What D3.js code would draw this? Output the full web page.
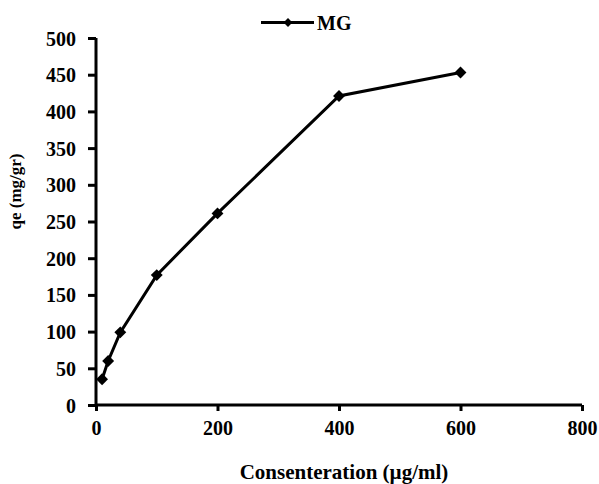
<!DOCTYPE html>
<html>
<head>
<meta charset="utf-8">
<script src="https://cdn.jsdelivr.net/npm/d3@7"></script>
<style>
  body { margin: 0; background: #fff; }
  svg text { font-family: "Liberation Serif", "Times New Roman", serif !important; font-weight: bold; fill: #000; }
</style>
</head>
<body>
<div id="chart"></div>
<script>
// data
const seriesName = "MG";
const concentration = [10, 20, 40, 100, 200, 400, 600];
const qe = [35, 60, 99, 177, 261, 421, 453];
const xTicks = [0, 200, 400, 600, 800];
const yTicks = [0, 50, 100, 150, 200, 250, 300, 350, 400, 450, 500];

const width = 599, height = 484;
const margin = { left: 96, right: 17, top: 38, bottom: 79 };

const svg = d3.select("#chart")
    .append("svg")
    .attr("width", width)
    .attr("height", height);

const x = d3.scaleLinear().domain([0, 800]).range([margin.left, width - margin.right]);
const y = d3.scaleLinear().domain([0, 500]).range([height - margin.bottom, margin.top]);

// axes
const xAxis = svg.append("g")
    .attr("transform", `translate(0,${y(0)})`)
    .call(d3.axisBottom(x).tickValues(xTicks).tickSize(6).tickPadding(10).tickFormat(d3.format("d")));
const yAxis = svg.append("g")
    .attr("transform", `translate(${x(0)},0)`)
    .call(d3.axisLeft(y).tickValues(yTicks).tickSize(8).tickPadding(12).tickFormat(d3.format("d")));

[xAxis, yAxis].forEach(g => {
    g.attr("font-family", null);
    g.select(".domain").attr("stroke", "#000").attr("stroke-width", 3);
    g.selectAll(".tick line").attr("stroke", "#000").attr("stroke-width", 3);
    g.selectAll(".tick text").style("font-size", "20px");
});
// remove the outer tick stubs of the domain path
xAxis.select(".domain").attr("d", `M${x(0)},0H${x(800)}`);
yAxis.select(".domain").attr("d", `M0,${y(0)}V${y(500)}`);
xAxis.selectAll(".tick text").attr("dy", "0.71em");
yAxis.selectAll(".tick text").attr("dy", "0.35em");

// line
const data = concentration.map((c, i) => ({ c, q: qe[i] }));
const line = d3.line().x(d => x(d.c)).y(d => y(d.q));

svg.append("path")
    .datum(data)
    .attr("fill", "none")
    .attr("stroke", "#000")
    .attr("stroke-width", 3)
    .attr("d", line);

const diamond = d3.symbol().type(d3.symbolDiamond2).size(90);
svg.selectAll(".pt")
    .data(data)
    .enter()
    .append("path")
    .attr("class", "pt")
    .attr("transform", d => `translate(${x(d.c)},${y(d.q)})`)
    .attr("d", diamond)
    .attr("fill", "#000");

// legend
const leg = svg.append("g").attr("transform", "translate(261,22.5)");
leg.append("line").attr("x1", 0).attr("x2", 53).attr("stroke", "#000").attr("stroke-width", 3);
leg.append("path").attr("transform", "translate(27,0)")
    .attr("d", d3.symbol().type(d3.symbolDiamond2).size(50)).attr("fill", "#000");
leg.append("text").attr("x", 56).attr("y", 7).style("font-size", "20px").text(seriesName);

// axis titles
svg.append("text")
    .attr("x", (x(0) + x(800)) / 2 + 5)
    .attr("y", 479)
    .attr("text-anchor", "middle")
    .style("font-size", "21px")
    .text("Consenteration (µg/ml)");

svg.append("text")
    .attr("transform", `translate(21,${(y(0) + y(500)) / 2 - 30}) rotate(-90)`)
    .attr("text-anchor", "middle")
    .style("font-size", "17px")
    .text("qe (mg/gr)");
</script>
</body>
</html>
